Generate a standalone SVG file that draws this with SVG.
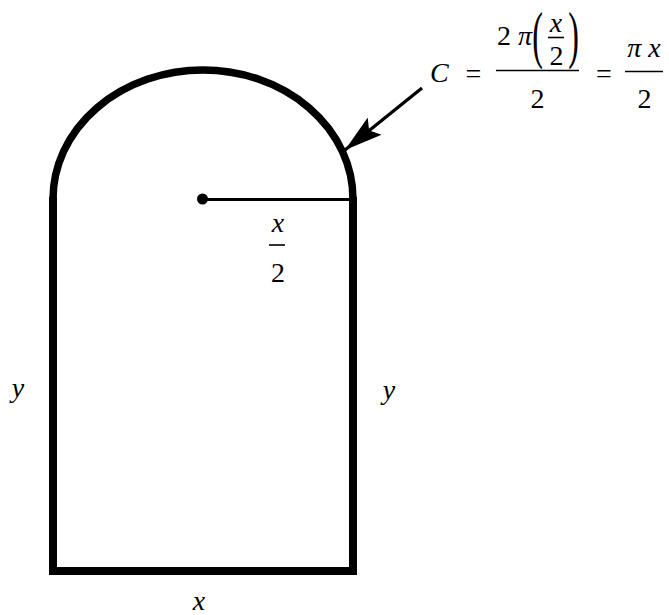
<svg xmlns="http://www.w3.org/2000/svg" width="669" height="615" viewBox="0 0 669 615" font-family="Liberation Serif, Times New Roman, serif">
<style>
.m{font-size:28px;fill:#000}
.i{font-style:italic}
.c{text-anchor:middle}
.bar{stroke:#000;stroke-width:1.6}
</style>
<defs>
<marker id="ah" viewBox="0 0 38 22" refX="38" refY="11" markerWidth="38" markerHeight="22" markerUnits="userSpaceOnUse" orient="auto">
<path d="M38,11 L0,0 L7,11 L0,22 Z" fill="#000"/>
</marker>
</defs>
<rect width="669" height="615" fill="#fff"/>
<g id="shape">
<path d="M53,199 A150,129 0 0 1 353,199" fill="none" stroke="#000" stroke-width="7.5"/>
<path d="M53,197 L53,571 L353,571 L353,197" fill="none" stroke="#000" stroke-width="8" stroke-linejoin="miter"/>
</g>
<g id="radius">
<line x1="202.5" y1="199.5" x2="351" y2="199.5" stroke="#000" stroke-width="3"/>
<circle cx="202.5" cy="199" r="5.5" fill="#000"/>
</g>
<g id="connectors">
<line x1="422" y1="88" x2="345" y2="150" stroke="#000" stroke-width="3.3" marker-end="url(#ah)"/>
</g>
<g id="label-half-x">
<text class="m i c" x="278" y="232" font-family="Liberation Serif">x</text>
<line class="bar" x1="269" y1="245" x2="285" y2="245"/>
<text class="m c" x="278" y="282" font-family="Liberation Serif">2</text>
</g>
<g id="label-y-left"><text class="m i c" x="18" y="397">y</text></g>
<g id="label-y-right"><text class="m i c" x="389" y="399">y</text></g>
<g id="label-x-bottom"><text class="m i c" x="199" y="610">x</text></g>
<g id="formula">
<text class="m i" x="430" y="82">C</text>
<text class="m c" x="473.5" y="83">=</text>
<text class="m c" x="504" y="45">2</text>
<text class="m i c" x="525" y="45">π</text>
<text class="m c" transform="translate(537.5,56) scale(0.5,1)" style="font-size:64px">(</text>
<text class="m i c" x="556" y="32">x</text>
<line class="bar" x1="548" y1="37.5" x2="564" y2="37.5"/>
<text class="m c" x="556.5" y="65">2</text>
<text class="m c" transform="translate(573.5,56) scale(0.5,1)" style="font-size:64px">)</text>
<line class="bar" x1="496" y1="70.5" x2="579" y2="70.5"/>
<text class="m c" x="537.5" y="108">2</text>
<text class="m c" x="604" y="83">=</text>
<text class="m i c" x="644" y="57">π x</text>
<line class="bar" x1="625" y1="71.5" x2="663" y2="71.5"/>
<text class="m c" x="644.5" y="108">2</text>
</g>
</svg>
